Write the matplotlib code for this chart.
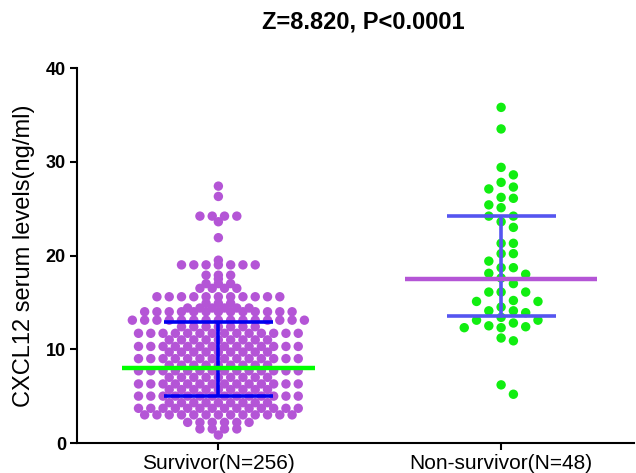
import numpy as np
import matplotlib
matplotlib.use('Agg')
import matplotlib.pyplot as plt

plt.rcParams['font.family'] = ['Liberation Sans', 'DejaVu Sans']

# Survivor group: serum level rows (ng/ml) and number of patients sitting on each row
survivor_levels = [0.85, 1.5, 2.2, 3.0, 3.7, 4.3, 5.0, 5.7, 6.3, 7.0, 7.7, 8.3, 9.0, 9.7,
                   10.3, 11.0, 11.7, 12.4, 13.1, 14.0, 14.4, 14.9, 15.6, 16.5, 17.0, 17.5,
                   17.9, 19.0, 19.5, 21.9, 23.6, 24.2, 26.3, 27.4]
survivor_counts = [1, 4, 6, 13, 14, 9, 14, 9, 14, 9, 14, 9, 14, 9,
                   14, 9, 14, 7, 15, 13, 6, 3, 11, 4, 3, 1,
                   3, 7, 1, 1, 1, 4, 1, 1]

# Non-survivor group: single values (ng/ml)
nonsurvivor_values = [35.8, 33.5, 29.4, 28.6, 27.8, 27.3, 27.1, 26.2, 26.1, 25.4, 25.1,
                      24.2, 24.2, 23.6, 23.0, 21.3, 21.3, 20.2, 20.2, 19.4, 18.7, 18.7,
                      18.1, 18.0, 17.6, 17.0, 16.1, 16.1, 16.1, 15.2, 15.1, 15.1, 14.5,
                      14.1, 14.1, 13.9, 13.4, 13.1, 13.1, 12.8, 12.5, 12.4, 12.3, 12.3,
                      11.2, 10.9, 6.2, 5.2]

groups = ['Survivor(N=256)', 'Non-survivor(N=48)']
medians = [8.0, 17.5]
q1 = [5.0, 13.6]
q3 = [12.9, 24.2]

dot_colors = ['#B455D6', '#11EE11']
median_colors = ['#00FF00', '#B455D6']
bar_colors = ['#0000F0', '#5555F0']

fig = plt.figure(figsize=(6.36, 4.73), dpi=100)
ax = fig.add_axes([77 / 636, 30 / 473, 557 / 636, 375 / 473])
ax.set_xlim(-0.5, 1.47)
ax.set_ylim(0, 40)

# spacing of dots: ~12.3 px horizontally, ~10 px vertical clearance
step = 12.3 / 283
min_dy = 10 / 9.375

# survivor: each row centred on the group position
surv_x, surv_y = [], []
for lev, n in zip(survivor_levels, survivor_counts):
    surv_x.extend(0 + (np.arange(n) - (n - 1) / 2) * step)
    surv_y.extend([lev] * n)

# non-survivor: simple greedy swarm on a column grid
slots = [0, 1, -1, 2, -2, 3, -3, 4, -4, 5, -5]
placed = []
ns_x = []
for v in nonsurvivor_values:
    for k in slots:
        if all(not (kk == k and abs(v - vv) < min_dy) for kk, vv in placed):
            break
    placed.append((k, v))
    ns_x.append(1 + k * step)

ax.scatter(surv_x, surv_y, s=46, color=dot_colors[0], edgecolors='none', zorder=2, clip_on=False)
ax.scatter(ns_x, nonsurvivor_values, s=46, color=dot_colors[1], edgecolors='none', zorder=2, clip_on=False)

# median and error bars
for i in range(2):
    ax.vlines(i, q1[i], q3[i], color=bar_colors[i], lw=2.6, zorder=3)
    ax.hlines([q1[i], q3[i]], i - 0.193, i + 0.193, color=bar_colors[i], lw=2.6, zorder=3)
    ax.hlines(medians[i], i - 0.34, i + 0.34, color=median_colors[i], lw=3.2, zorder=4)

for s in ['top', 'right']:
    ax.spines[s].set_visible(False)
for s in ['left', 'bottom']:
    ax.spines[s].set_linewidth(1.5)

ax.set_yticks([0, 10, 20, 30, 40])
ax.set_xticks([0, 1])
ax.set_xticklabels(groups, fontsize=15)
for lab in ax.get_yticklabels():
    lab.set_fontsize(13)
    lab.set_fontweight('bold')
ax.tick_params(length=5, width=1.5, pad=3)
ax.set_ylabel('CXCL12 serum levels(ng/ml)', fontsize=17, labelpad=8)

fig.text(363 / 636, 1 - 22 / 473, 'Z=8.820, P<0.0001', ha='center', va='center',
         fontsize=17, fontweight='bold')

fig.savefig('out.png', dpi=100)
